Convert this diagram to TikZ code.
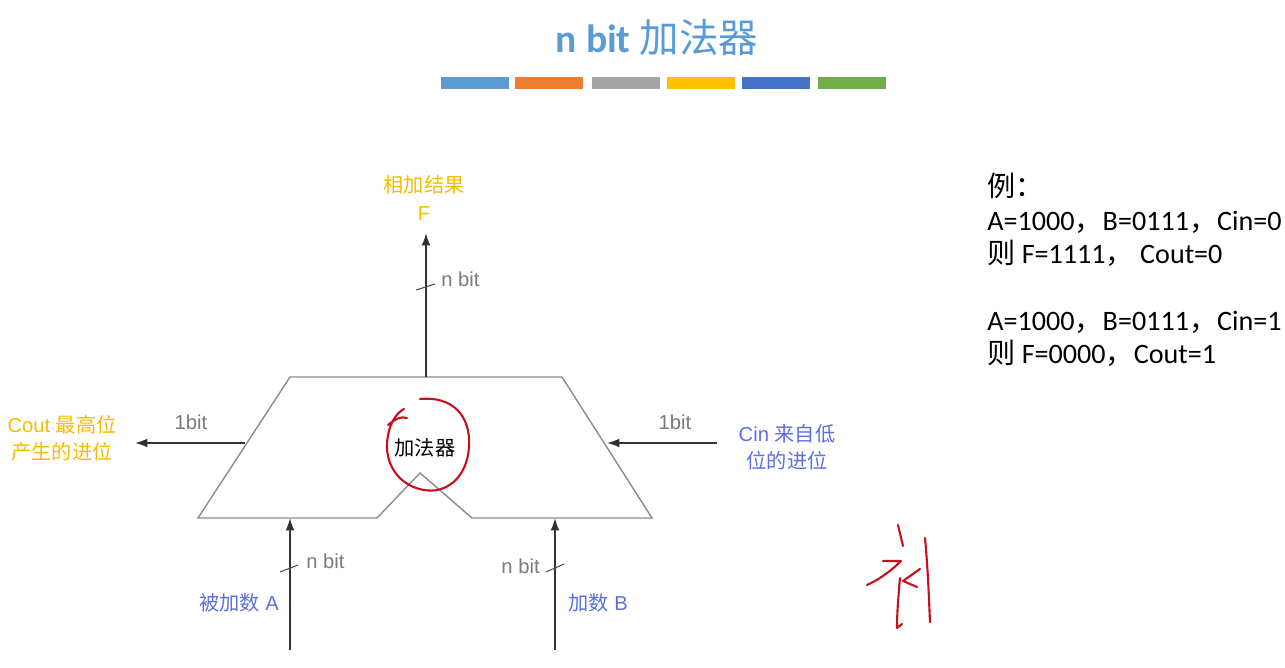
\documentclass[tikz,border=0pt]{standalone}
\usepackage{fontspec}
\setmainfont{Liberation Sans}
\newfontfamily\cjk{Noto Sans CJK SC}
\newfontfamily\calfont{Carlito}
\usetikzlibrary{arrows,arrows.meta,positioning}
\definecolor{titleblue}{HTML}{5B9BD5}
\definecolor{barorange}{HTML}{ED7D31}
\definecolor{bargray}{HTML}{A5A5A5}
\definecolor{baryellow}{HTML}{FFC000}
\definecolor{bardblue}{HTML}{4472C4}
\definecolor{bargreen}{HTML}{70AD47}
\definecolor{outyellow}{HTML}{F5BC00}
\definecolor{inblue}{HTML}{5D6FE3}
\definecolor{bitgray}{HTML}{7A7A7A}
\definecolor{inkred}{HTML}{C8101C}
\tikzset{
  lbl/.style={font=\fontsize{11.5}{15.5}\selectfont,align=center,inner sep=0pt},
  bitlbl/.style={lbl,text=bitgray},
  sig/.style={-{Latex[length=7pt,width=5pt]},line width=0.9pt,draw=black!80},
  tick/.style={line width=0.6pt,draw=black!70},
  bar/.style={line width=7pt,line cap=butt},
  ink/.style={draw=inkred,line width=1.2pt,line cap=round,line join=round}
}

\begin{document}
\begin{tikzpicture}[x=0.02cm,y=-0.02cm]
      \useasboundingbox[fill=white] (0,0) rectangle (1285,668);

      \node (TITLE) at (657,38) {\textcolor{titleblue}{\fontsize{22.5}{26}\selectfont\calfont\bfseries n bit {\cjk\mdseries 加法器}}};
      \foreach \xa/\col in {441/titleblue,515/barorange,592/bargray,667/baryellow,742/bardblue,818/bargreen}
        \draw[bar,\col] (\xa,83) -- (\xa+68,83);

      \coordinate (TL) at (290,377);
      \coordinate (TR) at (562,377);
      \coordinate (BR) at (652,518);
      \coordinate (BL) at (198,518);
      \draw[line width=0.8pt,black!45] (TL) -- (TR) -- (BR) -- (472,518) -- (420,473)
        -- (377,518) -- (BL) -- cycle;
      \node[font=\fontsize{11.5}{14}\selectfont\cjk] (ADD) at (425,448) {加法器};

      \coordinate (FTOP) at (426,377);
      \coordinate (FEND) at (426,233);
      \node[lbl,text=outyellow] (F) at (424,198) {{\cjk 相加结果}\\F};
      \draw[sig] (FTOP) -- (FEND);
      \draw[tick] (416,290) -- (435,284);
      \node[bitlbl,anchor=west] (FBIT) at (441,279) {n bit};

      \coordinate (COUTS) at (245,443);
      \coordinate (COUTE) at (135,443);
      \node[lbl,text=outyellow] (COUT) at (62,438) {Cout {\cjk 最高位}\\{\cjk 产生的进位}};
      \draw[sig] (COUTS) -- (COUTE);
      \node[bitlbl] (COUTBIT) at (191,422) {1bit};

      \coordinate (CINS) at (717,443);
      \coordinate (CINE) at (607,443);
      \node[lbl,text=inblue] (CIN) at (787,447) {Cin {\cjk 来自低}\\{\cjk 位的进位}};
      \draw[sig] (CINS) -- (CINE);
      \node[bitlbl] (CINBIT) at (675,422) {1bit};

      \coordinate (AS) at (290,650);
      \coordinate (AE) at (290,518);
      \node[lbl,text=inblue] (A) at (239,603) {{\cjk 被加数} A};
      \draw[sig] (AS) -- (AE);
      \draw[tick] (280,572) -- (298,565);
      \node[bitlbl,anchor=west] (ABIT) at (306,561) {n bit};

      \coordinate (BS) at (555,650);
      \coordinate (BE) at (555,518);
      \node[lbl,text=inblue] (B) at (598,603) {{\cjk 加数} B};
      \draw[sig] (BS) -- (BE);
      \draw[tick] (546,572) -- (564,564);
      \node[bitlbl,anchor=east] (BBIT) at (540,566) {n bit};

      \node[anchor=north west,inner sep=0pt,align=left,font=\fontsize{16}{19}\selectfont\calfont] (EX) at (987,173)
        {{\cjk 例：}\\
         A=1000{\cjk ，}B=0111{\cjk ，}Cin=0\\
         {\cjk 则} F=1111{\cjk ，} Cout=0\\[19pt]
         A=1000{\cjk ，}B=0111{\cjk ，}Cin=1\\
         {\cjk 则} F=0000{\cjk ，}Cout=1};

      \draw[ink] (420,399) .. controls (452,396) and (471,415) .. (469,447)
        .. controls (467,478) and (446,494) .. (424,490)
        .. controls (400,486) and (386,466) .. (387,444)
        .. controls (388,425) and (396,413) .. (404,409);
      \draw[ink] (388,425) .. controls (395,419) and (401,416) .. (407,418);

      \draw[ink] (898,525) -- (903,546);
      \draw[ink] (883,561) -- (901,561) .. controls (890,572) and (878,580) .. (867,585);
      \draw[ink] (900,578) .. controls (898,600) and (897,615) .. (897,628) -- (902,624);
      \draw[ink] (920,569) -- (903,581) -- (917,587);
      \draw[ink] (925,538) .. controls (928,570) and (929,600) .. (930,622);
\end{tikzpicture}
\end{document}
